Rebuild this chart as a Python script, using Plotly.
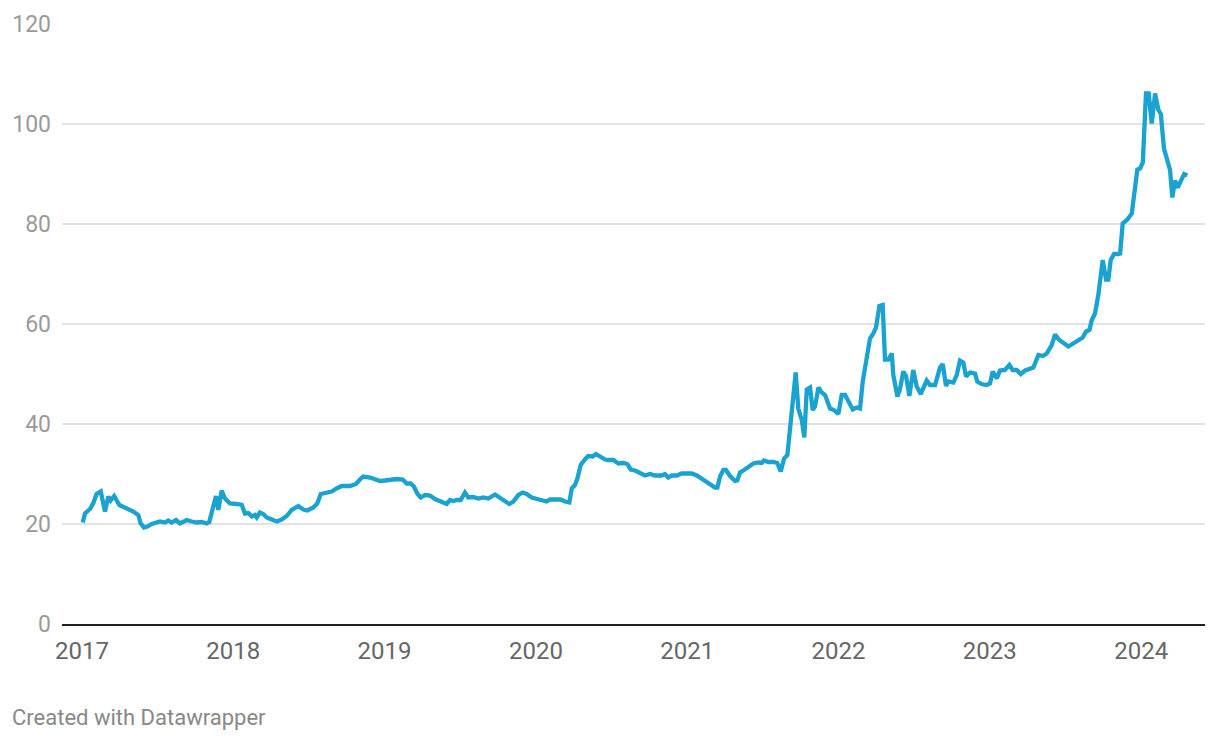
import plotly.graph_objects as go

# time in fractional years, value
years = [
2017.005,2017.020,2017.053,2017.075,2017.097,2017.124,2017.152,2017.174,2017.190,2017.213,
2017.247,2017.284,2017.317,2017.339,2017.372,2017.388,2017.410,2017.432,2017.461,2017.516,
2017.549,2017.570,2017.593,2017.621,2017.648,2017.692,2017.725,2017.758,2017.791,2017.824,
2017.841,2017.864,2017.886,2017.901,2017.923,2017.945,2017.978,2018.022,2018.056,2018.077,
2018.099,2018.122,2018.143,2018.155,2018.176,2018.198,2018.221,2018.254,2018.287,2018.320,
2018.353,2018.386,2018.430,2018.463,2018.489,2018.529,2018.555,2018.578,2018.617,2018.650,
2018.683,2018.716,2018.771,2018.811,2018.837,2018.859,2018.904,2018.943,2018.970,2019.003,
2019.036,2019.080,2019.120,2019.146,2019.172,2019.194,2019.216,2019.239,2019.267,2019.300,
2019.333,2019.366,2019.388,2019.410,2019.432,2019.454,2019.477,2019.503,2019.531,2019.553,
2019.586,2019.619,2019.652,2019.685,2019.730,2019.774,2019.796,2019.824,2019.851,2019.884,
2019.913,2019.939,2019.972,2020.005,2020.045,2020.071,2020.093,2020.126,2020.164,2020.192,
2020.221,2020.237,2020.258,2020.274,2020.296,2020.324,2020.346,2020.375,2020.397,2020.424,
2020.457,2020.478,2020.512,2020.545,2020.578,2020.604,2020.627,2020.655,2020.688,2020.721,
2020.754,2020.787,2020.831,2020.853,2020.875,2020.898,2020.931,2020.964,2020.997,2021.030,
2021.063,2021.106,2021.151,2021.184,2021.199,2021.217,2021.239,2021.256,2021.283,2021.316,
2021.331,2021.349,2021.371,2021.404,2021.437,2021.470,2021.492,2021.508,2021.536,2021.569,
2021.595,2021.618,2021.640,2021.662,2021.691,2021.717,2021.734,2021.757,2021.774,2021.790,
2021.812,2021.829,2021.845,2021.867,2021.889,2021.911,2021.944,2021.970,2021.999,2022.021,
2022.043,2022.071,2022.094,2022.120,2022.142,2022.160,2022.182,2022.208,2022.230,2022.248,
2022.270,2022.292,2022.307,2022.329,2022.352,2022.362,2022.389,2022.406,2022.428,2022.446,
2022.468,2022.494,2022.517,2022.543,2022.583,2022.605,2022.638,2022.671,2022.689,2022.710,
2022.726,2022.759,2022.781,2022.803,2022.825,2022.843,2022.869,2022.902,2022.917,2022.946,
2022.979,2023.001,2023.019,2023.046,2023.067,2023.100,2023.129,2023.151,2023.178,2023.204,
2023.233,2023.266,2023.288,2023.321,2023.350,2023.376,2023.409,2023.431,2023.459,2023.519,
2023.552,2023.592,2023.614,2023.636,2023.658,2023.673,2023.695,2023.717,2023.740,2023.746,
2023.768,2023.783,2023.799,2023.821,2023.849,2023.861,2023.878,2023.909,2023.938,2023.975,
2023.993,2024.011,2024.032,2024.050,2024.070,2024.092,2024.114,2024.130,2024.151,2024.173,
2024.191,2024.206,2024.224,2024.242,2024.284,2024.305,
]
values = [
20.3,22.1,23.0,24.2,26.0,26.5,22.5,25.5,24.7,25.6,
23.8,23.3,22.8,22.5,21.8,20.1,19.3,19.5,20.0,20.5,
20.3,20.7,20.3,20.8,20.1,20.8,20.5,20.3,20.4,20.1,
20.4,23.5,25.6,22.8,26.7,25.1,24.1,24.0,23.8,22.1,
22.2,21.5,21.8,21.3,22.3,22.0,21.3,20.9,20.5,20.9,
21.6,22.8,23.6,22.9,22.7,23.3,24.1,26.0,26.3,26.5,
27.1,27.6,27.6,28.0,28.9,29.5,29.3,28.9,28.6,28.7,
28.8,29.0,28.9,28.1,28.1,27.5,26.1,25.3,25.8,25.7,
25.0,24.6,24.3,24.0,24.8,24.6,24.8,24.8,26.3,25.3,
25.4,25.1,25.3,25.1,25.9,25.1,24.7,24.0,24.5,25.8,
26.3,26.0,25.3,25.0,24.6,24.5,24.9,24.8,24.9,24.5,
24.3,27.1,27.8,29.1,31.8,32.9,33.6,33.5,34.0,33.5,
32.9,32.8,32.8,32.1,32.2,32.0,30.9,30.7,30.1,29.7,
30.0,29.7,29.7,30.0,29.3,29.7,29.7,30.1,30.1,30.1,
29.7,28.8,28.0,27.3,27.3,29.5,30.8,30.8,29.6,28.6,
28.7,30.3,30.7,31.3,32.1,32.3,32.2,32.7,32.4,32.4,
32.2,30.5,33.1,33.8,42.1,50.3,43.1,40.8,37.3,46.9,
47.3,42.8,43.5,47.3,46.3,45.8,43.1,42.8,42.0,45.8,
45.8,44.1,42.9,43.3,43.1,48.5,52.0,57.1,58.1,59.3,
63.6,63.8,52.9,52.9,54.1,49.8,45.5,46.9,50.5,49.6,
45.6,50.8,47.5,46.0,48.7,47.8,47.8,51.3,52.0,47.6,
48.5,48.3,49.8,52.7,52.3,49.5,50.3,50.1,48.5,48.0,
47.8,48.1,50.5,49.1,50.7,50.8,51.8,50.8,50.8,50.0,
50.7,51.0,51.3,53.8,53.6,54.1,55.8,57.9,56.8,55.5,
56.1,56.7,57.3,58.5,58.8,60.7,62.1,65.8,70.9,72.8,
68.9,68.9,72.8,74.0,74.0,74.1,80.1,80.9,82.1,90.9,
91.1,92.3,106.1,106.1,100.1,106.1,102.8,102.0,95.1,93.1,
90.8,85.3,88.7,87.3,90.0,89.7,
]

year_ticks = [2017, 2018, 2019, 2020, 2021, 2022, 2023, 2024]
year_labels = [str(y) for y in year_ticks]
value_ticks = [0, 20, 40, 60, 80, 100, 120]
value_labels = [str(v) for v in value_ticks]

fig = go.Figure()
fig.add_trace(go.Scatter(
    x=years, y=values, mode="lines",
    line=dict(color="#1aa2d0", width=4.3, shape="linear"),
    hoverinfo="x+y", showlegend=False,
))

fig.update_layout(
    width=1220, height=740,
    margin=dict(l=62, r=15, t=24, b=116),
    paper_bgcolor="white", plot_bgcolor="white",
    font=dict(family="Roboto, sans-serif"),
    xaxis=dict(
        range=[2016.868, 2024.422],
        tickvals=year_ticks, ticktext=year_labels,
        showgrid=False, zeroline=False,
        showline=True, linecolor="#222222", linewidth=2,
        ticks="", ticklabelstandoff=4,
        tickfont=dict(size=24, color="#666666"),
    ),
    yaxis=dict(
        range=[0, 120],
        tickvals=value_ticks, ticktext=value_labels,
        showgrid=True, gridcolor="#e2e2e2", gridwidth=1.5,
        zeroline=False, showline=False,
        ticks="", ticklabelstandoff=10,
        tickfont=dict(size=23, color="#9a9a9a"),
    ),
    annotations=[dict(
        text="Created with Datawrapper", showarrow=False,
        xref="paper", yref="paper",
        x=-52/1143, y=-93/600, xanchor="left", yanchor="middle",
        font=dict(size=22, color="#888888"),
    )],
)

fig.write_html("out.html")
